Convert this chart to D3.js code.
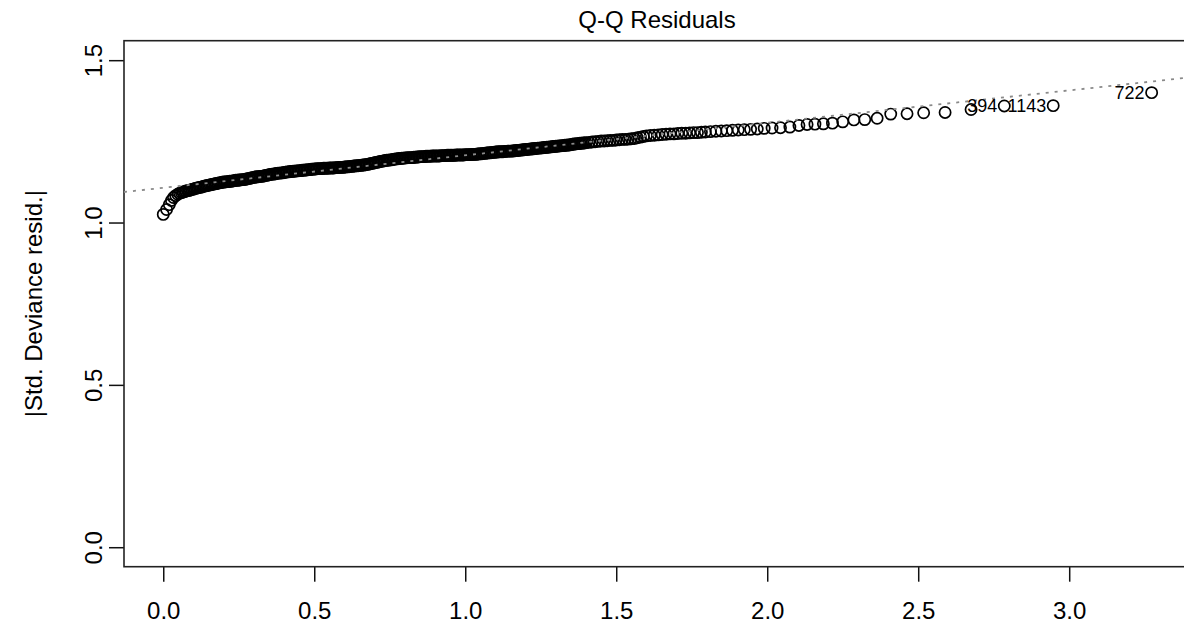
<!DOCTYPE html>
<html>
<head>
<meta charset="utf-8">
<script src="https://cdn.jsdelivr.net/npm/d3@7"></script>
<style>
body { margin: 0; background: #fff; }
svg { font-family: "Liberation Sans", Arial, Helvetica, sans-serif; }
</style>
</head>
<body>
<svg id="qq" width="1184" height="625"></svg>
<script>
window.addEventListener("load", run);

var TITLE = "Q-Q Residuals";
var Y_LABEL = "|Std. Deviance resid.|";

var xTicks = [0, 0.5, 1, 1.5, 2, 2.5, 3];
var yTicks = [0, 0.5, 1, 1.5];
var xDomain = [-0.13, 3.40];
var yDomain = [-0.06, 1.56];

// reference line: intercept, slope
var qqLine = [1.107, 0.1];

// ids of the three largest residuals
var idLabels = ["394", "1143", "722"];

// theoretical quantile, |std. deviance residual| (sorted)
var qqPoints = [
  [0.000,1.025],[0.011,1.040],[0.020,1.055],[0.027,1.068],[0.034,1.077],[0.041,1.083],[0.048,1.087],[0.054,1.090],
  [0.060,1.092],[0.065,1.094],[0.070,1.095],[0.075,1.097],[0.080,1.098],[0.085,1.099],[0.090,1.100],[0.095,1.102],
  [0.100,1.103],[0.105,1.105],[0.110,1.106],[0.115,1.107],[0.120,1.108],[0.125,1.109],[0.130,1.110],[0.135,1.112],
  [0.140,1.113],[0.145,1.114],[0.150,1.115],[0.155,1.116],[0.160,1.117],[0.165,1.118],[0.170,1.119],[0.175,1.120],
  [0.180,1.121],[0.185,1.122],[0.190,1.123],[0.195,1.124],[0.200,1.125],[0.205,1.125],[0.210,1.126],[0.215,1.126],
  [0.220,1.127],[0.225,1.127],[0.230,1.128],[0.235,1.129],[0.240,1.130],[0.245,1.130],[0.250,1.131],[0.255,1.131],
  [0.260,1.132],[0.265,1.132],[0.270,1.133],[0.275,1.134],[0.280,1.135],[0.285,1.136],[0.290,1.137],[0.295,1.138],
  [0.300,1.139],[0.305,1.140],[0.310,1.141],[0.315,1.141],[0.320,1.142],[0.325,1.142],[0.330,1.143],[0.335,1.144],
  [0.340,1.145],[0.345,1.146],[0.350,1.147],[0.355,1.148],[0.360,1.149],[0.365,1.149],[0.370,1.150],[0.375,1.151],
  [0.380,1.152],[0.385,1.152],[0.390,1.153],[0.395,1.153],[0.400,1.154],[0.405,1.155],[0.410,1.156],[0.415,1.156],
  [0.420,1.157],[0.425,1.157],[0.430,1.158],[0.435,1.158],[0.440,1.159],[0.445,1.159],[0.450,1.160],[0.455,1.160],
  [0.460,1.161],[0.465,1.161],[0.470,1.162],[0.475,1.162],[0.480,1.163],[0.485,1.163],[0.490,1.164],[0.495,1.164],
  [0.500,1.165],[0.505,1.165],[0.510,1.166],[0.515,1.166],[0.520,1.166],[0.525,1.166],[0.530,1.167],[0.535,1.167],
  [0.540,1.167],[0.545,1.167],[0.550,1.168],[0.555,1.168],[0.560,1.168],[0.565,1.168],[0.570,1.169],[0.575,1.169],
  [0.580,1.170],[0.585,1.170],[0.590,1.170],[0.595,1.170],[0.600,1.171],[0.605,1.171],[0.610,1.172],[0.615,1.172],
  [0.620,1.173],[0.625,1.173],[0.630,1.174],[0.635,1.174],[0.640,1.175],[0.645,1.175],[0.650,1.176],[0.655,1.176],
  [0.660,1.177],[0.665,1.177],[0.670,1.178],[0.675,1.179],[0.680,1.180],[0.685,1.181],[0.690,1.182],[0.695,1.183],
  [0.700,1.184],[0.705,1.185],[0.710,1.186],[0.715,1.187],[0.720,1.188],[0.725,1.189],[0.730,1.190],[0.735,1.191],
  [0.740,1.192],[0.745,1.192],[0.750,1.193],[0.755,1.193],[0.760,1.194],[0.765,1.195],[0.770,1.196],[0.775,1.196],
  [0.780,1.197],[0.785,1.197],[0.790,1.198],[0.795,1.198],[0.800,1.199],[0.805,1.199],[0.810,1.200],[0.815,1.200],
  [0.820,1.200],[0.825,1.200],[0.830,1.201],[0.835,1.201],[0.840,1.202],[0.845,1.202],[0.850,1.203],[0.855,1.203],
  [0.860,1.203],[0.865,1.203],[0.870,1.204],[0.875,1.204],[0.880,1.204],[0.885,1.204],[0.890,1.205],[0.895,1.205],
  [0.900,1.205],[0.905,1.205],[0.910,1.205],[0.915,1.205],[0.920,1.206],[0.925,1.206],[0.930,1.206],[0.935,1.206],
  [0.940,1.207],[0.945,1.207],[0.950,1.207],[0.955,1.207],[0.960,1.207],[0.965,1.207],[0.970,1.208],[0.975,1.208],
  [0.980,1.208],[0.985,1.208],[0.990,1.208],[0.995,1.208],[1.000,1.209],[1.005,1.209],[1.010,1.209],[1.015,1.209],
  [1.020,1.210],[1.025,1.210],[1.030,1.210],[1.035,1.210],[1.040,1.211],[1.045,1.211],[1.050,1.212],[1.055,1.212],
  [1.060,1.213],[1.065,1.213],[1.070,1.214],[1.075,1.214],[1.080,1.215],[1.085,1.215],[1.090,1.216],[1.095,1.216],
  [1.100,1.217],[1.105,1.217],[1.110,1.218],[1.115,1.218],[1.120,1.218],[1.125,1.218],[1.130,1.219],[1.135,1.219],
  [1.140,1.220],[1.145,1.220],[1.150,1.220],[1.155,1.220],[1.160,1.221],[1.165,1.221],[1.170,1.222],[1.175,1.222],
  [1.180,1.223],[1.185,1.223],[1.190,1.224],[1.195,1.224],[1.200,1.225],[1.205,1.225],[1.210,1.226],[1.215,1.226],
  [1.220,1.227],[1.225,1.227],[1.230,1.228],[1.235,1.228],[1.240,1.229],[1.245,1.229],[1.250,1.230],[1.255,1.230],
  [1.260,1.231],[1.265,1.231],[1.270,1.232],[1.275,1.232],[1.280,1.233],[1.285,1.233],[1.290,1.234],[1.295,1.234],
  [1.300,1.235],[1.305,1.235],[1.310,1.236],[1.315,1.236],[1.320,1.237],[1.325,1.237],[1.330,1.238],[1.335,1.238],
  [1.340,1.239],[1.345,1.239],[1.350,1.240],[1.355,1.241],[1.360,1.242],[1.365,1.242],[1.370,1.243],[1.375,1.243],
  [1.380,1.244],[1.385,1.244],[1.390,1.245],[1.395,1.245],[1.400,1.246],[1.41,1.247],
  [1.42,1.248],[1.43,1.249],[1.44,1.250],[1.45,1.251],[1.46,1.251],[1.47,1.252],[1.48,1.253],[1.49,1.253],
  [1.50,1.254],[1.51,1.255],[1.52,1.256],[1.53,1.256],[1.54,1.257],[1.55,1.258],[1.56,1.259],[1.57,1.261],
  [1.58,1.263],[1.59,1.265],[1.60,1.267],[1.613,1.268],[1.626,1.269],[1.639,1.270],[1.652,1.271],[1.665,1.272],
  [1.678,1.273],[1.691,1.273],[1.704,1.274],[1.717,1.275],[1.730,1.275],[1.743,1.276],[1.756,1.277],[1.769,1.277],
  [1.782,1.278],[1.795,1.279],[1.812,1.280],[1.830,1.281],[1.848,1.282],[1.866,1.283],[1.885,1.284],[1.904,1.285],
  [1.924,1.286],[1.945,1.287],[1.967,1.288],[1.990,1.290],[2.016,1.291],[2.044,1.292],[2.075,1.294],[2.105,1.299],
  [2.132,1.302],[2.158,1.303],[2.186,1.304],[2.216,1.306],[2.250,1.310],[2.287,1.316],[2.323,1.317],[2.364,1.321],
  [2.409,1.334],[2.463,1.335],[2.518,1.338],[2.589,1.339],[2.675,1.348],[2.785,1.359],[2.947,1.360],[3.273,1.400]
];

function run() {
    var svg = d3.select("#qq");
    var left = 124, right = 1190, top = 40.7, bottom = 566.7;

    var x = d3.scaleLinear().domain(xDomain).range([left, right]);
    var y = d3.scaleLinear().domain(yDomain).range([bottom, top]);

    // title
    svg.append("text")
        .attr("x", (left + right) / 2)
        .attr("y", 28)
        .attr("text-anchor", "middle")
        .style("font-size", "24px")
        .text(TITLE);

    // y label
    svg.append("text")
        .attr("transform", "translate(42," + ((top + bottom) / 2) + ") rotate(-90)")
        .attr("text-anchor", "middle")
        .style("font-size", "24px")
        .text(Y_LABEL);

    // x axis
    var gx = svg.append("g")
        .attr("transform", "translate(0," + bottom + ")")
        .call(d3.axisBottom(x).tickValues(xTicks).tickSize(15).tickPadding(20).tickFormat(d3.format(".1f")));
    gx.select(".domain").remove();
    gx.selectAll("line").attr("stroke", "#111").attr("stroke-width", 1.5);
    gx.selectAll("text").style("font-size", "24px").attr("fill", "#000");

    // y axis, labels turned like R's default las = 0
    var gy = svg.append("g")
        .attr("transform", "translate(" + left + ",0)")
        .call(d3.axisLeft(y).tickValues(yTicks).tickSize(15).tickFormat(d3.format(".1f")));
    gy.select(".domain").remove();
    gy.selectAll("line").attr("stroke", "#111").attr("stroke-width", 1.5);
    gy.selectAll("text")
        .attr("transform", "rotate(-90)")
        .attr("x", 0)
        .attr("y", -22)
        .attr("dy", 0)
        .attr("text-anchor", "middle")
        .style("font-size", "24px")
        .attr("fill", "#000");

    // box
    svg.append("rect")
        .attr("x", left)
        .attr("y", top)
        .attr("width", right - left)
        .attr("height", bottom - top)
        .style("fill", "none")
        .style("stroke", "#222")
        .style("stroke-width", 1.6);

    svg.append("g").selectAll("circle")
        .data(qqPoints)
        .enter().append("circle")
        .attr("cx", function(d) { return x(d[0]); })
        .attr("cy", function(d) { return y(d[1]); })
        .attr("r", 5.6)
        .style("fill", "none")
        .style("stroke", "#000")
        .style("stroke-width", 1.7);

    // reference line goes over the points, as qqline does
    svg.append("line")
        .attr("x1", x(xDomain[0]))
        .attr("y1", y(qqLine[0] + qqLine[1] * xDomain[0]))
        .attr("x2", x(xDomain[1]))
        .attr("y2", y(qqLine[0] + qqLine[1] * xDomain[1]))
        .style("stroke", "#8a8a8a")
        .style("stroke-width", 1.8)
        .style("stroke-dasharray", "3,6");

    // labels on the three extreme points, placed to the left like R's plot.lm
    var n = qqPoints.length;
    idLabels.forEach(function(lab, i) {
        var p = qqPoints[n - idLabels.length + i];
        svg.append("text")
            .attr("x", x(p[0]) - 7)
            .attr("y", y(p[1]))
            .attr("dy", "0.35em")
            .attr("text-anchor", "end")
            .style("font-size", "18px")
            .text(lab);
    });
}
</script>
</body>
</html>
